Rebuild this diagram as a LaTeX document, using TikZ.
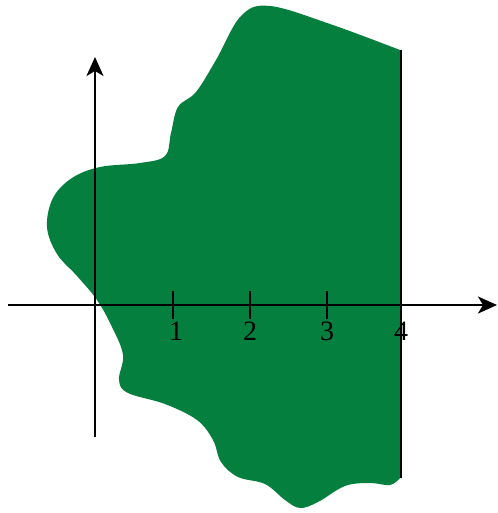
\documentclass[tikz,border=0pt]{standalone}
\usepackage{fontspec}
\setmainfont{Liberation Serif}
\usetikzlibrary{arrows.meta}
\definecolor{blobgreen}{RGB}{4,127,62}
\begin{document}
\begin{tikzpicture}[x=1pt,y=-1pt,
  axis/.style={line width=2pt,-{Stealth[length=19pt,width=17pt,inset=5pt]}},
  tickmark/.style={line width=2pt},
  ticklabel/.style={font=\fontsize{28}{28}\selectfont,inner sep=0pt}]
\useasboundingbox (0,0) rectangle (497,513);
\fill[blobgreen] plot[smooth,tension=0.6] coordinates{
(400,50) (330,24) (270,6) (241,16) (216,60) (196,92) (178,107) (171,133) (165,156) (140,163) (100,167) (72,178) (53,198) (47,227) (57,254) (77,276) (97,300) (112,327) (123,355) (119,380) (128,393) (165,404) (197,420) (213,440) (221,462) (238,477) (265,484) (285,500) (300,508) (318,502) (345,486) (370,483) (390,485) (400,478)} -- cycle;
\coordinate (xs) at (8,305);
\coordinate (xe) at (497,305);
\coordinate (ys) at (95,437);
\coordinate (ye) at (95,57);
\draw[axis] (xs) -- (xe);
\draw[axis] (ys) -- (ye);
\coordinate (t1a) at (173,291); \coordinate (t1b) at (173,319);
\coordinate (t2a) at (250,291); \coordinate (t2b) at (250,319);
\coordinate (t3a) at (327,291); \coordinate (t3b) at (327,319);
\draw[tickmark] (t1a) -- (t1b);
\draw[tickmark] (t2a) -- (t2b);
\draw[tickmark] (t3a) -- (t3b);
\coordinate (va) at (401,50); \coordinate (vb) at (401,478);
\draw[line width=2pt] (va) -- (vb);
\node[ticklabel] (l1) at (176,331) {1};
\node[ticklabel] (l2) at (250,331) {2};
\node[ticklabel] (l3) at (327,331) {3};
\node[ticklabel] (l4) at (401,331) {4};
\end{tikzpicture}
\end{document}
